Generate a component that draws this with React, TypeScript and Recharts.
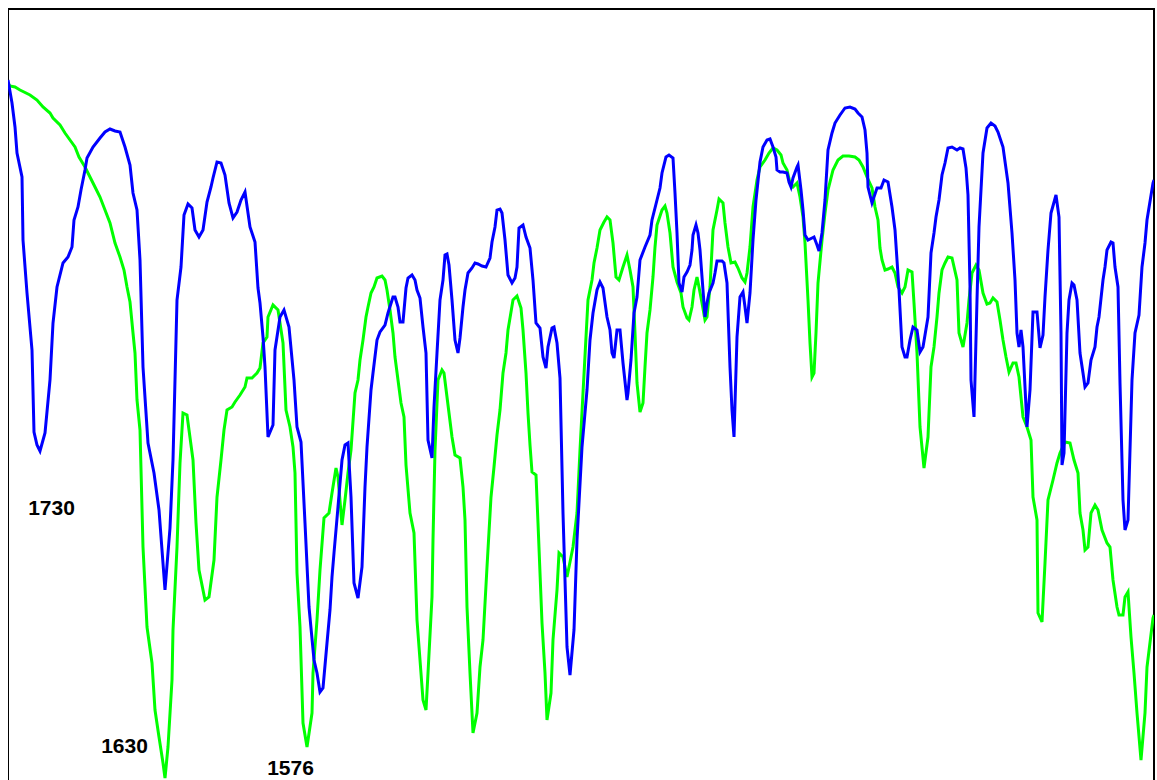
import { LineChart, Line, XAxis, YAxis, ReferenceArea, ReferenceDot } from 'recharts';

// positions along the spectrum (arbitrary units) and signal values
const blueX = [
  8, 12, 15, 17, 22, 23, 27, 32, 34, 37, 40, 45, 50, 53, 57, 63, 68, 72, 74, 78, 81, 85, 87, 93, 100, 105, 110, 115, 120,
  125, 130, 133, 137, 140, 143, 148, 154, 159, 165, 170, 173, 175, 177, 181, 184, 188, 192, 195, 199, 203, 207, 211, 213,
  217, 221, 225, 229, 233, 237, 241, 245, 250, 255, 258, 260, 263, 265, 268, 273, 275, 280, 284, 289, 294, 297, 301, 305,
  309, 314, 317, 320, 323, 327, 330, 332, 334, 338, 342, 345, 348, 351, 354, 358, 362, 365, 367, 371, 373, 377, 380, 385,
  388, 393, 395, 398, 400, 403, 406, 408, 412, 415, 417, 420, 423, 426, 428, 432, 434, 437, 440, 443, 445, 447, 449, 452,
  455, 458, 460, 463, 465, 468, 472, 475, 478, 482, 486, 490, 492, 495, 497, 500, 502, 505, 508, 512, 515, 517, 519, 523,
  526, 530, 533, 536, 540, 543, 546, 548, 552, 554, 557, 560, 563, 567, 570, 574, 577, 582, 587, 590, 593, 597, 600, 603,
  607, 610, 612, 614, 617, 620, 623, 627, 628, 631, 634, 637, 640, 645, 650, 652, 657, 660, 662, 666, 669, 673, 675, 677,
  679, 682, 684, 687, 690, 692, 693, 696, 698, 700, 703, 705, 707, 709, 713, 715, 717, 722, 724, 727, 730, 732, 734, 737,
  740, 743, 745, 747, 750, 753, 756, 760, 763, 767, 770, 773, 776, 777, 780, 783, 787, 789, 791, 793, 797, 798, 801, 803,
  805, 808, 812, 814, 817, 819, 822, 825, 828, 832, 835, 840, 845, 850, 855, 858, 862, 865, 867, 868, 872, 877, 881, 884,
  888, 892, 895, 897, 899, 902, 905, 907, 910, 913, 917, 920, 923, 928, 931, 934, 936, 939, 942, 945, 948, 952, 957, 960,
  963, 966, 968, 970, 971, 974, 977, 979, 983, 987, 991, 995, 998, 1003, 1008, 1012, 1015, 1017, 1019, 1021, 1023, 1027,
  1030, 1033, 1037, 1040, 1043, 1045, 1048, 1051, 1056, 1059, 1061, 1062, 1064, 1067, 1069, 1072, 1074, 1077, 1080, 1083,
  1085, 1088, 1091, 1095, 1097, 1099, 1103, 1105, 1107, 1111, 1113, 1115, 1118, 1120, 1123, 1125, 1128, 1130, 1132, 1135,
  1139, 1142, 1145, 1147, 1153, 1154,
];
const blueY = [
  709, 686, 662, 636, 612, 549, 496, 439, 357, 344, 338, 356, 409, 466, 502, 526, 532, 542, 569, 582, 599, 619, 631, 642,
  651, 657, 660, 658, 657, 642, 624, 596, 579, 529, 422, 346, 316, 279, 199, 261, 329, 409, 489, 522, 574, 585, 581, 559,
  552, 559, 587, 602, 611, 627, 626, 614, 586, 571, 577, 589, 597, 562, 547, 501, 486, 452, 422, 352, 364, 439, 472, 479,
  462, 409, 362, 347, 266, 182, 129, 116, 97, 101, 146, 179, 212, 236, 282, 329, 344, 346, 292, 206, 191, 222, 302, 342,
  399, 416, 449, 457, 464, 476, 492, 492, 482, 467, 467, 501, 511, 514, 509, 499, 491, 462, 436, 349, 331, 382, 436, 489,
  509, 534, 535, 524, 489, 449, 436, 451, 482, 499, 516, 521, 526, 525, 523, 522, 531, 547, 562, 579, 580, 576, 549, 514,
  506, 511, 522, 561, 564, 552, 541, 509, 466, 461, 432, 421, 442, 461, 462, 446, 411, 276, 142, 114, 159, 249, 342, 399,
  449, 476, 499, 507, 501, 472, 459, 436, 431, 459, 459, 426, 389, 396, 429, 476, 492, 529, 542, 554, 569, 589, 601, 616,
  632, 634, 631, 596, 556, 506, 497, 512, 517, 524, 539, 554, 564, 556, 539, 499, 472, 486, 496, 506, 516, 528, 528, 526,
  506, 422, 379, 352, 452, 492, 497, 482, 466, 496, 549, 589, 627, 642, 649, 650, 642, 632, 619, 617, 617, 616, 607, 602,
  611, 622, 624, 599, 579, 554, 549, 551, 552, 544, 538, 556, 589, 639, 656, 666, 674, 681, 682, 680, 676, 672, 659, 636,
  602, 586, 601, 601, 609, 607, 582, 559, 529, 499, 442, 432, 432, 449, 462, 459, 437, 442, 472, 536, 556, 572, 589, 614,
  626, 641, 642, 639, 641, 640, 621, 594, 502, 409, 372, 489, 562, 636, 661, 666, 663, 657, 642, 606, 556, 509, 456, 442,
  459, 442, 362, 399, 477, 477, 441, 454, 492, 539, 576, 594, 572, 456, 324, 336, 456, 489, 506, 504, 489, 436, 416, 402,
  406, 429, 442, 462, 472, 509, 522, 539, 547, 546, 522, 502, 406, 289, 259, 269, 339, 409, 456, 474, 522, 546, 569, 606,
  609,
];

const greenX = [
  8, 10, 15, 20, 30, 37, 43, 50, 53, 60, 65, 70, 75, 79, 85, 90, 95, 100, 105, 110, 115, 120, 124, 127, 130, 133, 135, 137,
  140, 143, 147, 152, 155, 159, 163, 165, 168, 172, 173, 177, 180, 183, 187, 193, 196, 199, 205, 209, 214, 217, 221, 224,
  227, 232, 235, 240, 245, 247, 252, 257, 260, 263, 267, 268, 273, 278, 280, 283, 286, 290, 293, 295, 297, 300, 303, 307,
  312, 313, 317, 320, 324, 329, 332, 336, 338, 342, 345, 348, 351, 355, 358, 360, 363, 366, 368, 371, 374, 377, 382, 385,
  387, 390, 393, 395, 398, 401, 404, 406, 410, 414, 417, 420, 423, 426, 428, 432, 433, 435, 438, 442, 444, 447, 449, 452,
  455, 460, 463, 465, 467, 470, 473, 477, 480, 483, 487, 491, 494, 497, 500, 503, 506, 508, 513, 517, 521, 523, 526, 528,
  530, 532, 536, 538, 542, 545, 547, 551, 553, 557, 559, 563, 567, 570, 573, 577, 580, 583, 588, 592, 594, 597, 600, 604,
  607, 610, 613, 616, 619, 623, 627, 630, 633, 635, 637, 640, 643, 645, 647, 650, 653, 655, 657, 662, 665, 667, 670, 673,
  677, 681, 683, 687, 689, 692, 694, 697, 699, 702, 705, 707, 710, 713, 717, 719, 723, 725, 728, 731, 735, 738, 742, 745,
  747, 750, 753, 757, 760, 765, 769, 773, 777, 781, 783, 787, 790, 793, 797, 800, 803, 805, 808, 810, 812, 814, 816, 818,
  822, 825, 828, 833, 838, 843, 849, 855, 859, 863, 867, 872, 875, 878, 880, 882, 885, 888, 892, 895, 898, 902, 905, 908,
  912, 914, 917, 920, 924, 928, 931, 934, 937, 939, 942, 945, 948, 952, 957, 959, 963, 967, 969, 972, 976, 979, 983, 987,
  990, 993, 997, 1000, 1003, 1006, 1009, 1013, 1016, 1019, 1023, 1027, 1031, 1033, 1037, 1038, 1042, 1045, 1048, 1053,
  1057, 1060, 1065, 1070, 1074, 1078, 1080, 1083, 1085, 1088, 1091, 1095, 1098, 1102, 1107, 1110, 1113, 1117, 1119, 1123,
  1125, 1128, 1131, 1134, 1137, 1141, 1145, 1147, 1153, 1154,
];
const greenY = [
  706, 703, 702, 699, 694, 689, 682, 676, 671, 664, 656, 649, 642, 632, 622, 612, 602, 592, 579, 566, 546, 532, 519, 502,
  487, 456, 436, 389, 359, 242, 162, 126, 79, 52, 26, 11, 42, 109, 159, 242, 326, 376, 374, 329, 266, 219, 189, 192, 229,
  292, 329, 359, 379, 382, 387, 394, 402, 411, 411, 416, 421, 446, 452, 472, 484, 479, 466, 446, 379, 362, 342, 316, 216,
  162, 66, 42, 76, 116, 169, 219, 271, 276, 296, 321, 312, 264, 289, 316, 339, 396, 409, 429, 449, 472, 482, 496, 502, 511,
  513, 509, 499, 479, 456, 432, 409, 386, 372, 324, 276, 256, 169, 129, 89, 79, 116, 192, 249, 339, 409, 419, 416, 392,
  376, 352, 334, 331, 302, 269, 182, 116, 56, 76, 122, 149, 222, 292, 322, 354, 379, 416, 436, 459, 489, 493, 481, 459,
  416, 376, 344, 317, 314, 266, 166, 116, 69, 96, 149, 199, 236, 232, 212, 227, 242, 276, 339, 396, 489, 509, 526, 541,
  559, 567, 572, 569, 546, 512, 509, 522, 534, 519, 502, 456, 406, 377, 386, 422, 456, 479, 512, 542, 564, 579, 583, 576,
  556, 522, 507, 496, 482, 471, 469, 482, 499, 512, 502, 486, 469, 472, 502, 559, 579, 590, 586, 566, 542, 526, 527, 521,
  511, 507, 516, 542, 582, 609, 622, 629, 636, 641, 639, 634, 626, 619, 606, 602, 606, 592, 572, 546, 489, 446, 412, 416,
  456, 506, 549, 576, 599, 619, 629, 633, 633, 632, 629, 622, 612, 601, 582, 569, 541, 529, 519, 520, 522, 516, 502, 496,
  502, 519, 517, 486, 436, 362, 321, 352, 422, 442, 472, 496, 519, 526, 532, 531, 509, 456, 442, 466, 489, 516, 524, 519,
  496, 485, 486, 491, 487, 469, 449, 432, 417, 426, 426, 412, 372, 362, 349, 292, 269, 176, 167, 226, 289, 309, 326, 336,
  347, 346, 329, 316, 276, 259, 239, 242, 276, 284, 279, 259, 246, 242, 209, 182, 174, 174, 192, 197, 152, 116, 76, 29, 76,
  122, 171, 174,
];

const peakNames = ['1730', '1630', '1576'];
// where each band label sits, in the same units as the series
const labelAnchorX = [51.5, 124.5, 290.5];
const labelAnchorY = [281.5, 43, 21.5];

const zip = (xs: number[], ys: number[]) => xs.map((x, i) => ({ x, v: ys[i] }));

const blueData = zip(blueX, blueY);
const greenData = zip(greenX, greenY);

export default function App() {
  return (
    <div style={{ position: 'fixed', inset: 0, overflow: 'hidden', background: '#fff' }}>
      <div style={{ position: 'absolute', left: 8, top: 8 }}>
        <LineChart width={1149} height={781} margin={{ top: 1, right: 3, left: 0, bottom: 0 }}>
          <XAxis type='number' dataKey='x' domain={[8, 1154]} hide allowDataOverflow />
          <YAxis type='number' domain={[0, 780]} hide allowDataOverflow />
          <Line
            data={greenData}
            dataKey='v'
            type='linear'
            stroke='#00ff00'
            strokeWidth={3}
            dot={false}
            activeDot={false}
            isAnimationActive={false}
          />
          <Line
            data={blueData}
            dataKey='v'
            type='linear'
            stroke='#0000ff'
            strokeWidth={3}
            dot={false}
            activeDot={false}
            isAnimationActive={false}
          />
          <ReferenceArea x1={8} x2={1154} y1={0} y2={780} fill='none' stroke='#000' strokeWidth={2} ifOverflow='visible' />
          {peakNames.map((name, i) => (
            <ReferenceDot
              key={name}
              x={labelAnchorX[i]}
              y={labelAnchorY[i]}
              r={0}
              stroke='none'
              fill='none'
              ifOverflow='visible'
              label={{
                value: name,
                position: 'center',
                fill: '#000',
                fontSize: 21,
                fontWeight: 'bold',
                fontFamily: "Arial, 'Liberation Sans', sans-serif",
              }}
            />
          ))}
        </LineChart>
      </div>
    </div>
  );
}
